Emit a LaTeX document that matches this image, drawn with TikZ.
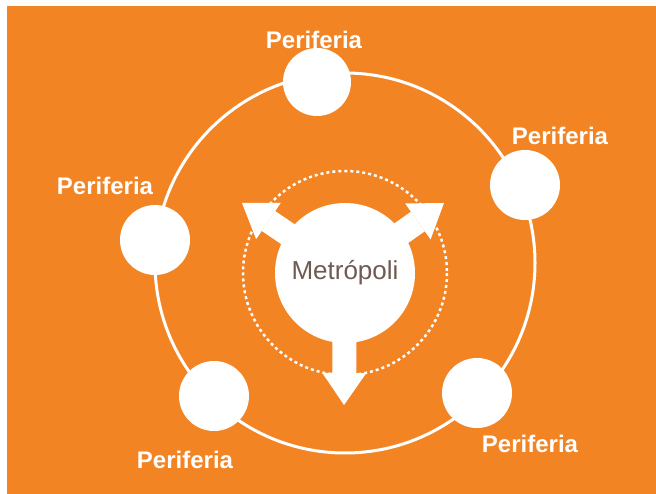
\documentclass[tikz,border=0pt]{standalone}
\usepackage{fontspec}
\setmainfont{Liberation Sans}
\usetikzlibrary{arrows.meta}
\definecolor{bgorange}{RGB}{242,132,36}
\definecolor{metrotext}{RGB}{112,90,82}
\pgfdeclarelayer{back}
\pgfsetlayers{back,main}

\begin{document}
\begin{tikzpicture}[
    x=1pt, y=-1pt,
    periph/.style={circle, fill=white, minimum size=70pt, inner sep=0pt},
    metro/.style={circle, fill=white, minimum size=140pt, inner sep=0pt,
                  text=metrotext, font=\fontsize{26}{26}\selectfont},
    tag/.style={text=white, font=\fontsize{24}{24}\selectfont\bfseries},
    flow/.style={white, line width=24pt,
                 -{Triangle[length=32pt 0 0, width=44pt 0 0, line width=0pt]}}
]
    % Background
    \useasboundingbox (0,0) rectangle (656,494);
    \begin{pgfonlayer}{back}
        \fill[white] (0,0) rectangle (656,494);
        \fill[bgorange] (7,6) rectangle (656,494);
        \draw[white, line width=3pt] (345,263) circle[radius=190];
        \draw[white, line width=2.5pt, dash pattern=on 3pt off 3pt] (345,273) circle[radius=102];
    \end{pgfonlayer}

    % Centre
    \node[metro] (metropoli) at (345,273) {Metrópoli};
    \coordinate (upleft) at (242,203);
    \coordinate (upright) at (444,203);
    \coordinate (down) at (344,405);
    \begin{pgfonlayer}{back}
        \draw[flow] (metropoli.center) -- (upleft);
        \draw[flow] (metropoli.center) -- (upright);
        \draw[flow] (metropoli.center) -- (down);
    \end{pgfonlayer}

    % Periphery
    \node[periph, minimum size=68pt] (ptop) at (317,82) {};
    \node[periph] (pright) at (525,185) {};
    \node[periph] (pleft) at (155,240) {};
    \node[periph] (pbotleft) at (214,396) {};
    \node[periph] (pbotright) at (477,393) {};

    % Labels
    \node[tag] (ltop) at (314,40) {Periferia};
    \node[tag] (lright) at (560,136) {Periferia};
    \node[tag] (lleft) at (105,186) {Periferia};
    \node[tag] (lbotleft) at (185,460) {Periferia};
    \node[tag] (lbotright) at (530,444) {Periferia};
\end{tikzpicture}
\end{document}
